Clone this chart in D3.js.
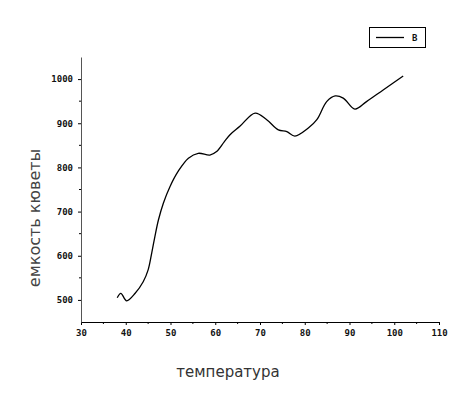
<!DOCTYPE html>
<html><head><meta charset="utf-8">
<script src="https://cdn.jsdelivr.net/npm/d3@7"></script>
<style>body{margin:0;background:#fff}svg{display:block}</style>
</head><body>
<script>
const temps  = [38.1, 38.9, 40.2, 42.1, 43.9, 45.0, 45.8, 46.5, 47.3, 48.4, 49.9, 51.7, 54.0, 56.2, 58.8, 60.3, 62.0, 63.3, 65.5, 68.9, 71.5, 74.1, 76.0, 77.8, 80.8, 82.7, 84.9, 86.8, 88.6, 91.2, 93.8, 97.6, 102.0];
const values = [505, 515, 498, 515, 541, 568, 606, 643, 681, 719, 757, 791, 821, 832, 828, 836, 858, 874, 893, 923, 908, 885, 881, 871, 889, 908, 949, 962, 957, 932, 949, 976, 1007];
const xTicks = [30, 40, 50, 60, 70, 80, 90, 100, 110];
const yTicks = [500, 600, 700, 800, 900, 1000];
const seriesName = "B";
const xTitle = "температура";
const yTitle = "емкость кюветы";

const W = 475, H = 394;
const svg = d3.select("body").append("svg").attr("width", W).attr("height", H);
const x = d3.scaleLinear().domain([30, 110]).range([81, 439]);
const y = d3.scaleLinear().domain([450, 1050]).range([322, 57]);

const tickFont = "bold 9px 'DejaVu Sans Mono', monospace";

// X axis
const xa = svg.append("g").attr("transform", "translate(0,322)")
  .call(d3.axisBottom(x).tickValues(xTicks).tickSize(3).tickSizeOuter(0).tickFormat(d3.format("d")));
xa.call(g => g.selectAll("text").attr("dy", "0.85em").style("font", tickFont).attr("fill", "#111"));
xa.append("g").selectAll("line").data(d3.range(35, 110, 10)).join("line")
  .attr("x1", d => x(d)).attr("x2", d => x(d)).attr("y1", 0).attr("y2", 2).attr("stroke", "#000");

// Y axis
const ya = svg.append("g").attr("transform", "translate(81,0)")
  .call(d3.axisLeft(y).tickValues(yTicks).tickSize(3).tickSizeOuter(0).tickFormat(d3.format("d")));
ya.call(g => g.selectAll("text").attr("dx", "-2").style("font", tickFont).attr("fill", "#111"));
ya.append("g").selectAll("line").data(d3.range(550, 1050, 100)).join("line")
  .attr("y1", d => y(d)).attr("y2", d => y(d)).attr("x1", 0).attr("x2", -2).attr("stroke", "#000");
ya.select(".domain").attr("stroke", "#555");

// Line
const data = temps.map((t, i) => ({t, v: values[i]}));
svg.append("path").datum(data)
  .attr("fill", "none").attr("stroke", "#000").attr("stroke-width", 1.3)
  .attr("d", d3.line().x(d => x(d.t)).y(d => y(d.v)).curve(d3.curveCatmullRom.alpha(0.5)));

// Titles
svg.append("text").attr("x", 228).attr("y", 377).attr("text-anchor", "middle")
  .style("font", "15px 'DejaVu Sans', sans-serif").attr("fill", "#333").text(xTitle);
svg.append("text").attr("transform", "translate(40,218) rotate(-90)").attr("text-anchor", "middle")
  .style("font", "16px 'DejaVu Sans', sans-serif").attr("fill", "#444").text(yTitle);

// Legend
const lg = svg.append("g");
lg.append("rect").attr("x", 369.5).attr("y", 27.5).attr("width", 56).attr("height", 20)
  .attr("fill", "#fff").attr("stroke", "#000").attr("stroke-width", 1);
lg.append("line").attr("x1", 376).attr("x2", 404).attr("y1", 37.5).attr("y2", 37.5).attr("stroke", "#000").attr("stroke-width", 1.3);
lg.append("text").attr("x", 412).attr("y", 41).style("font", tickFont).attr("fill", "#111").text(seriesName);
</script>
</body></html>
